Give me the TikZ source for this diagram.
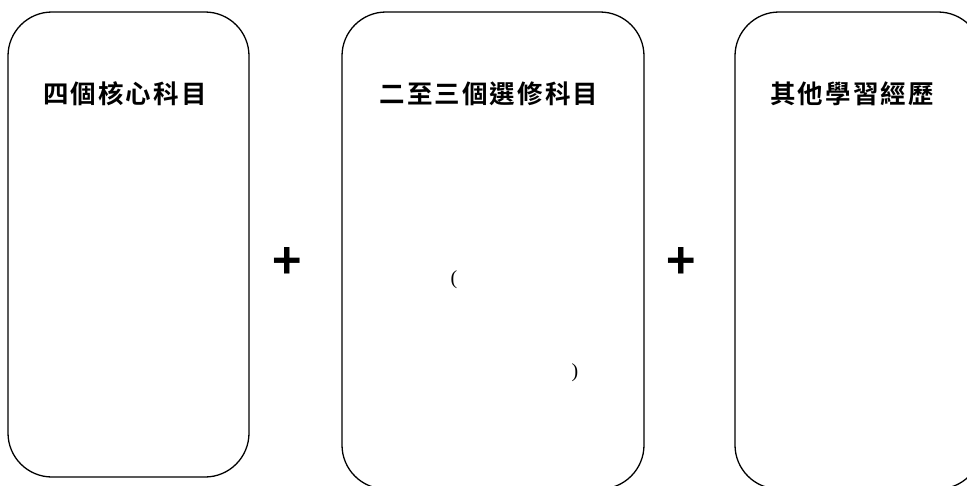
\documentclass[tikz,border=0pt]{standalone}
\usepackage{fontspec}
\usepackage{tikz}
\usetikzlibrary{positioning}
\newfontfamily\cjk[LetterSpace=8]{Noto Sans CJK TC Bold}
\newfontfamily\plusfont{Noto Sans CJK TC Bold}
\setmainfont{Liberation Serif}

\tikzset{
    card/.style={draw, line width=1.3pt, rounded corners=44pt, inner sep=0pt},
    title/.style={font=\cjk\fontsize{25.5}{27}\selectfont, inner sep=0pt},
    plus/.style={font=\plusfont\fontsize{50}{52}\selectfont, inner sep=0pt},
    paren/.style={font=\fontsize{20}{22}\selectfont, inner sep=0pt}
}

\begin{document}
\begin{tikzpicture}[x=1pt, y=-1pt]
    \clip (0,0) rectangle (967,485);
    \fill[white] (0,0) rectangle (967,485);
    % three cards
    \node (core) [card, minimum width=241pt, minimum height=465pt] at (128.5,244.5) {};
    \node (elective) [card, minimum width=302pt, minimum height=477pt] at (493,250.5) {};
    \node (other) [card, minimum width=247pt, minimum height=477pt] at (858.5,250.5) {};
    % titles
    \node (coretitle) [title] at (125,94) {四個核心科目};
    \node (electivetitle) [title] at (489,94) {二至三個選修科目};
    \node (othertitle) [title] at (852,94) {其他學習經歷};
    % plus signs
    \node (plusA) [plus] at (287,263) {+};
    \node (plusB) [plus] at (681,263) {+};
    % brackets in the elective card
    \node (lparen) [paren] at (454,280) {(};
    \node (rparen) [paren] at (575,373) {)};
\end{tikzpicture}
\end{document}
